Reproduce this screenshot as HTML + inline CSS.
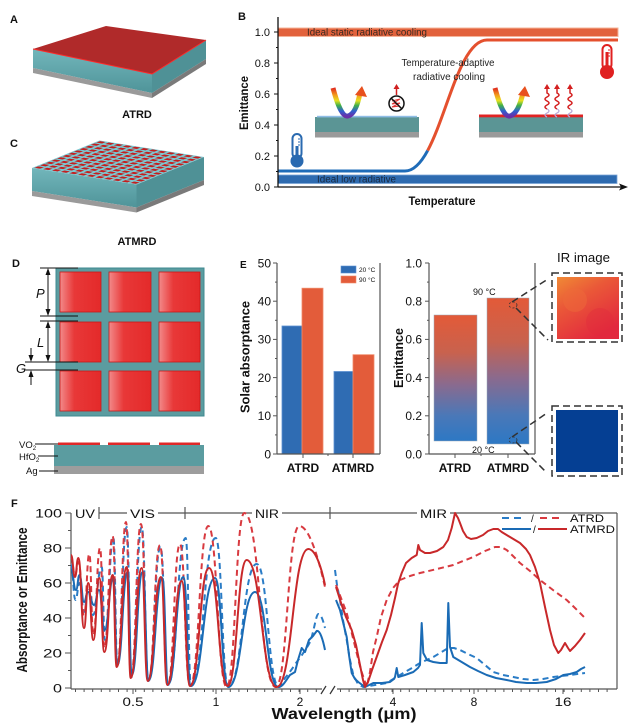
<!DOCTYPE html>
<html><head><meta charset="utf-8"><style>
html,body{margin:0;padding:0;background:#fff}
svg{display:block}
text{font-family:"Liberation Sans",Arial,sans-serif}
</style></head><body>
<svg width="640" height="728" viewBox="0 0 640 728" xmlns="http://www.w3.org/2000/svg">
<defs>
<linearGradient id="teal" x1="0" y1="0" x2="0" y2="1"><stop offset="0" stop-color="#72b6bb"/><stop offset="1" stop-color="#4f9499"/></linearGradient>
<linearGradient id="rainbow" x1="0" y1="0" x2="0" y2="1">
<stop offset="0" stop-color="#e0281e"/><stop offset="0.25" stop-color="#f39a1c"/><stop offset="0.45" stop-color="#e6e020"/><stop offset="0.62" stop-color="#3eb04a"/><stop offset="0.82" stop-color="#2f5fd0"/><stop offset="1" stop-color="#6a2fa8"/></linearGradient>
<linearGradient id="sq" x1="0" y1="0" x2="1" y2="0"><stop offset="0" stop-color="#f28a8a"/><stop offset="0.35" stop-color="#e83838"/><stop offset="1" stop-color="#e42a2a"/></linearGradient>
<linearGradient id="emg" x1="0" y1="0" x2="0" y2="1"><stop offset="0" stop-color="#e35a38"/><stop offset="0.3" stop-color="#c8624e"/><stop offset="0.55" stop-color="#8a6a8e"/><stop offset="0.8" stop-color="#4a78b8"/><stop offset="1" stop-color="#2d78c4"/></linearGradient>
<linearGradient id="ir" x1="0" y1="0" x2="0.6" y2="1"><stop offset="0" stop-color="#f08a35"/><stop offset="0.4" stop-color="#ea5838"/><stop offset="1" stop-color="#e2283e"/></linearGradient>
<pattern id="grid" patternUnits="userSpaceOnUse" width="10" height="10"><rect x="1.8" y="1.8" width="6.4" height="6.4" fill="#c41e1e"/></pattern>
</defs>

<!-- ===== Panel A ===== -->
<text x="10" y="23" font-size="11" font-weight="bold" fill="#111">A</text>
<polygon points="33,49 152,74 152,93 33,68" fill="url(#teal)"/>
<polygon points="33,68 152,93 152,98 33,73" fill="#9a9a9a"/>
<polygon points="152,74 206,40 206,59 152,93" fill="#4f9196"/>
<polygon points="152,93 206,59 206,64 152,98" fill="#7a7a7a"/>
<polygon points="33,49 106,26 206,40 152,74" fill="#b02a2a"/>
<polyline points="33,49 152,74 206,40" stroke="#ff2a2a" fill="none" stroke-width="1"/>
<text x="137" y="118" font-size="11" font-weight="bold" fill="#111" text-anchor="middle">ATRD</text>

<!-- ===== Panel C ===== -->
<text x="10" y="147" font-size="11" font-weight="bold" fill="#111">C</text>
<polygon points="32,168 136.5,184.5 136.5,207.5 32,191" fill="url(#teal)"/>
<polygon points="32,191 136.5,207.5 136.5,212.5 32,196" fill="#9a9a9a"/>
<polygon points="136.5,184.5 204,157 204,180 136.5,207.5" fill="#4f9196"/>
<polygon points="136.5,207.5 204,180 204,185 136.5,212.5" fill="#7a7a7a"/>
<g transform="matrix(0.5625,-0.22917,0.87083,0.1375,32,168)">
<rect x="0" y="0" width="120" height="120" fill="#7cc6cf"/>
<rect x="0" y="0" width="120" height="120" fill="url(#grid)"/>
</g>
<text x="137" y="245" font-size="11" font-weight="bold" fill="#111" text-anchor="middle">ATMRD</text>

<!-- ===== Panel D ===== -->
<text x="12" y="267" font-size="11" font-weight="bold" fill="#111">D</text>
<rect x="56" y="268" width="148" height="148" fill="#5b9ca0" stroke="#3f8a90" stroke-width="1"/>
<g fill="url(#sq)" stroke="#c81818" stroke-width="0.8">
<rect x="60" y="272" width="41" height="40"/><rect x="109" y="272" width="42" height="40"/><rect x="159" y="272" width="41" height="40"/>
<rect x="60" y="322" width="41" height="40"/><rect x="109" y="322" width="42" height="40"/><rect x="159" y="322" width="41" height="40"/>
<rect x="60" y="371" width="41" height="40"/><rect x="109" y="371" width="42" height="40"/><rect x="159" y="371" width="41" height="40"/>
</g>
<g stroke="#111" stroke-width="1" fill="none">
<line x1="40" y1="268" x2="78" y2="268"/><line x1="40" y1="316" x2="78" y2="316"/><line x1="40" y1="321" x2="78" y2="321"/>
<line x1="25" y1="362" x2="78" y2="362"/><line x1="25" y1="370" x2="78" y2="370"/>
<line x1="48" y1="271" x2="48" y2="313"/><line x1="48" y1="324" x2="48" y2="359"/>
<line x1="31" y1="348" x2="31" y2="358"/><line x1="31" y1="374" x2="31" y2="385"/>
</g>
<g fill="#111">
<polygon points="48,268 45.5,275 50.5,275"/><polygon points="48,316 45.5,309 50.5,309"/>
<polygon points="48,321 45.5,328 50.5,328"/><polygon points="48,362 45.5,355 50.5,355"/>
<polygon points="31,362 28.5,355 33.5,355"/><polygon points="31,370 28.5,377 33.5,377"/>
</g>
<text x="36" y="298" font-size="13" font-style="italic" fill="#111">P</text>
<text x="37" y="347" font-size="13" font-style="italic" fill="#111">L</text>
<text x="16" y="373" font-size="13" font-style="italic" fill="#111">G</text>
<rect x="54" y="445" width="150" height="21" fill="#5b9ca0"/>
<rect x="54" y="466" width="150" height="8" fill="#9d9d9d"/>
<g fill="#e02828"><rect x="58" y="442.5" width="42" height="2.5"/><rect x="108" y="442.5" width="42" height="2.5"/><rect x="159" y="442.5" width="41" height="2.5"/></g>
<g stroke="#111" stroke-width="1"><line x1="35" y1="444" x2="58" y2="444"/><line x1="38" y1="456" x2="58" y2="456"/><line x1="39" y1="471" x2="58" y2="471"/></g>
<text x="19" y="448" font-size="9.5" fill="#111">VO<tspan font-size="6" dy="2">2</tspan></text>
<text x="19" y="460" font-size="9.5" fill="#111">HfO<tspan font-size="6" dy="2">2</tspan></text>
<text x="26" y="474" font-size="9.5" fill="#111">Ag</text>

<!-- ===== Panel B ===== -->
<text x="238" y="20" font-size="11" font-weight="bold" fill="#111">B</text>
<rect x="278" y="28" width="340" height="8.5" fill="#e2623c" stroke="#f5b49a" stroke-width="1"/>
<rect x="278" y="175" width="339" height="8.5" fill="#2e6bb0" stroke="#7aa6d8" stroke-width="0.8"/>
<text x="307" y="35.5" font-size="10" fill="#3a2a22" textLength="120" lengthAdjust="spacingAndGlyphs">Ideal static radiative cooling</text>
<text x="317" y="182.5" font-size="10" fill="#1a2a40" textLength="79" lengthAdjust="spacingAndGlyphs">Ideal low radiative</text>
<path d="M278,171 L405,171 C413.75,171 421.06,162.81 427.66,150.53" stroke="#1f6cb8" stroke-width="3" fill="none"/>
<path d="M427.66,150.53 C447.44,113.69 460.75,40 487,40 L618,40" stroke="#e4502e" stroke-width="3" fill="none"/>
<text x="448" y="66" font-size="10" fill="#222" text-anchor="middle" textLength="93" lengthAdjust="spacingAndGlyphs">Temperature-adaptive</text>
<text x="449" y="80" font-size="10" fill="#222" text-anchor="middle" textLength="72" lengthAdjust="spacingAndGlyphs">radiative cooling</text>
<!-- left inset -->
<rect x="315" y="117" width="104" height="15" fill="#5b9595"/>
<rect x="315" y="132" width="104" height="5.5" fill="#9a9a9a"/>
<rect x="317" y="115.8" width="100" height="1.6" fill="#8fbde6"/>
<path d="M333,88 Q341,118 348,116 Q356,114 360,93" stroke="url(#rainbow)" stroke-width="5" fill="none"/>
<polygon points="355,95 362,86 367,97" fill="#e8501e"/>
<circle cx="396.5" cy="103.5" r="7.5" fill="#fff" stroke="#111" stroke-width="1.5"/>
<path d="M392,101 L400,99 L392,104 L400,103 L392,107 L400,106" stroke="#e03030" stroke-width="1" fill="none"/>
<line x1="391.5" y1="98.5" x2="401.5" y2="108.5" stroke="#111" stroke-width="1.5"/>
<path d="M396.5,95 L396.5,88" stroke="#d02020" stroke-width="1.5"/>
<polygon points="393.5,89 396.5,84 399.5,89" fill="#d02020"/>
<!-- right inset -->
<rect x="479" y="117" width="104" height="15" fill="#5b9595"/>
<rect x="479" y="132" width="104" height="5.5" fill="#9a9a9a"/>
<rect x="479" y="114.5" width="104" height="2.8" fill="#e02424"/>
<path d="M495,88 Q503,118 510,116 Q518,114 523,93" stroke="url(#rainbow)" stroke-width="5" fill="none"/>
<polygon points="518,95 525,86 530,97" fill="#e8501e"/>
<g stroke="#b8a8d8" stroke-width="1.2" fill="none">
<path d="M547,117 q-4,-2 0,-4 q4,-2 0,-4"/><path d="M557,117 q-4,-2 0,-4 q4,-2 0,-4"/><path d="M570,117 q-4,-2 0,-4 q4,-2 0,-4"/>
</g>
<g stroke="#d42020" stroke-width="1.5" fill="none">
<path d="M547,109 q-4,-2 0,-4 q4,-2 0,-4 q-4,-2 0,-4 q4,-2 0,-4 L547,88"/>
<path d="M557,109 q-4,-2 0,-4 q4,-2 0,-4 q-4,-2 0,-4 q4,-2 0,-4 L557,88"/>
<path d="M570,109 q-4,-2 0,-4 q4,-2 0,-4 q-4,-2 0,-4 q4,-2 0,-4 L570,88"/>
</g>
<g fill="#d42020"><polygon points="544,89 547,84 550,89"/><polygon points="554,89 557,84 560,89"/><polygon points="567,89 570,84 573,89"/></g>
<!-- thermometers -->
<rect x="292.5" y="134" width="9" height="24" rx="4.5" fill="#fff" stroke="#2a6ab0" stroke-width="2"/>
<rect x="295.5" y="146" width="3" height="12" fill="#2a6ab0"/>
<circle cx="297" cy="161" r="6.5" fill="#2a6ab0"/>
<g stroke="#2a6ab0" stroke-width="1"><line x1="298" y1="139" x2="300" y2="139"/><line x1="298" y1="142" x2="300" y2="142"/><line x1="298" y1="145" x2="300" y2="145"/></g>
<rect x="602.5" y="45" width="9" height="24" rx="4.5" fill="#fff" stroke="#e02020" stroke-width="2"/>
<rect x="605.5" y="52" width="3" height="17" fill="#e02020"/>
<circle cx="607" cy="72" r="7" fill="#e02020"/>
<g stroke="#e02020" stroke-width="1"><line x1="608" y1="50" x2="610" y2="50"/><line x1="608" y1="53" x2="610" y2="53"/><line x1="608" y1="56" x2="610" y2="56"/></g>
<!-- B axes -->
<line x1="278" y1="17" x2="278" y2="187" stroke="#111" stroke-width="1.3"/>
<line x1="278" y1="187" x2="622" y2="187" stroke="#111" stroke-width="1.3"/>
<polygon points="628,187 619,183.5 621,187 619,190.5" fill="#111"/>
<g stroke="#111" stroke-width="1">
<line x1="274" y1="32" x2="278" y2="32"/><line x1="274" y1="63" x2="278" y2="63"/><line x1="274" y1="94" x2="278" y2="94"/><line x1="274" y1="125" x2="278" y2="125"/><line x1="274" y1="156" x2="278" y2="156"/><line x1="274" y1="187" x2="278" y2="187"/>
<line x1="276" y1="47.5" x2="278" y2="47.5"/><line x1="276" y1="78.5" x2="278" y2="78.5"/><line x1="276" y1="109.5" x2="278" y2="109.5"/><line x1="276" y1="140.5" x2="278" y2="140.5"/><line x1="276" y1="171.5" x2="278" y2="171.5"/>
</g>
<g font-size="11" fill="#111" text-anchor="end">
<text x="270" y="36">1.0</text><text x="270" y="67">0.8</text><text x="270" y="98">0.6</text><text x="270" y="129">0.4</text><text x="270" y="160">0.2</text><text x="270" y="191">0.0</text>
</g>
<text transform="translate(248,103) rotate(-90)" font-size="12" font-weight="bold" fill="#111" text-anchor="middle" textLength="54" lengthAdjust="spacingAndGlyphs">Emittance</text>
<text x="442" y="205" font-size="12" font-weight="bold" fill="#111" text-anchor="middle" textLength="67" lengthAdjust="spacingAndGlyphs">Temperature</text>

<!-- ===== Panel E (solar absorptance) ===== -->
<text x="240" y="268" font-size="10" font-weight="bold" fill="#111">E</text>
<rect x="282" y="326" width="20" height="128" fill="#2f6cb3" stroke="#5d92d2" stroke-width="0.8"/>
<rect x="302" y="288.2" width="21" height="165.8" fill="#e35c3a" stroke="#f08a6a" stroke-width="0.8"/>
<rect x="334" y="371.5" width="19" height="82.5" fill="#2f6cb3" stroke="#5d92d2" stroke-width="0.8"/>
<rect x="353" y="354.7" width="21" height="99.3" fill="#e35c3a" stroke="#f08a6a" stroke-width="0.8"/>
<g stroke="#555" stroke-width="1.2" fill="none">
<line x1="277" y1="263" x2="277" y2="454"/><line x1="380" y1="263" x2="380" y2="454"/><line x1="277" y1="454" x2="380" y2="454"/>
</g>
<g stroke="#555" stroke-width="1">
<line x1="273" y1="263" x2="277" y2="263"/><line x1="273" y1="301.2" x2="277" y2="301.2"/><line x1="273" y1="339.4" x2="277" y2="339.4"/><line x1="273" y1="377.6" x2="277" y2="377.6"/><line x1="273" y1="415.8" x2="277" y2="415.8"/><line x1="273" y1="454" x2="277" y2="454"/>
<line x1="275" y1="282.1" x2="277" y2="282.1"/><line x1="275" y1="320.3" x2="277" y2="320.3"/><line x1="275" y1="358.5" x2="277" y2="358.5"/><line x1="275" y1="396.7" x2="277" y2="396.7"/><line x1="275" y1="434.9" x2="277" y2="434.9"/>
<line x1="303" y1="454" x2="303" y2="458"/><line x1="353" y1="454" x2="353" y2="458"/><line x1="328" y1="454" x2="328" y2="456"/>
</g>
<g font-size="12" fill="#111" text-anchor="end">
<text x="271" y="267.5">50</text><text x="271" y="305.5">40</text><text x="271" y="343.5">30</text><text x="271" y="382">20</text><text x="271" y="420">10</text><text x="271" y="458.5">0</text>
</g>
<rect x="341" y="266" width="15" height="7" fill="#2f6cb3" stroke="#5d92d2" stroke-width="0.6"/>
<rect x="341" y="276" width="15" height="7" fill="#e35c3a" stroke="#f08a6a" stroke-width="0.6"/>
<text x="359" y="272" font-size="6.5" fill="#111">20 °C</text>
<text x="359" y="282" font-size="6.5" fill="#111">90 °C</text>
<text x="303" y="472" font-size="12" font-weight="bold" fill="#111" text-anchor="middle">ATRD</text>
<text x="353" y="472" font-size="12" font-weight="bold" fill="#111" text-anchor="middle">ATMRD</text>
<text transform="translate(249.5,357) rotate(-90)" font-size="13" font-weight="bold" fill="#111" text-anchor="middle" textLength="112" lengthAdjust="spacingAndGlyphs">Solar absorptance</text>

<!-- ===== Panel E (emittance) ===== -->
<rect x="434" y="315" width="43" height="126" fill="url(#emg)" stroke="#9ab" stroke-width="0.5"/>
<rect x="487" y="298" width="42" height="146" fill="url(#emg)" stroke="#9ab" stroke-width="0.5"/>
<g stroke="#555" stroke-width="1.2" fill="none">
<line x1="429" y1="263" x2="429" y2="454"/><line x1="535" y1="263" x2="535" y2="454"/><line x1="429" y1="454" x2="535" y2="454"/>
</g>
<g stroke="#555" stroke-width="1">
<line x1="425" y1="263" x2="429" y2="263"/><line x1="425" y1="301.2" x2="429" y2="301.2"/><line x1="425" y1="339.4" x2="429" y2="339.4"/><line x1="425" y1="377.6" x2="429" y2="377.6"/><line x1="425" y1="415.8" x2="429" y2="415.8"/><line x1="425" y1="454" x2="429" y2="454"/>
<line x1="427" y1="282.1" x2="429" y2="282.1"/><line x1="427" y1="320.3" x2="429" y2="320.3"/><line x1="427" y1="358.5" x2="429" y2="358.5"/><line x1="427" y1="396.7" x2="429" y2="396.7"/><line x1="427" y1="434.9" x2="429" y2="434.9"/>
<line x1="455" y1="454" x2="455" y2="458"/><line x1="508" y1="454" x2="508" y2="458"/><line x1="481" y1="454" x2="481" y2="456"/>
</g>
<g font-size="12" fill="#111" text-anchor="end">
<text x="422" y="267.5">1.0</text><text x="422" y="305.5">0.8</text><text x="422" y="343.5">0.6</text><text x="422" y="382">0.4</text><text x="422" y="420">0.2</text><text x="422" y="458.5">0.0</text>
</g>
<text x="473" y="295" font-size="9" fill="#111">90 °C</text>
<text x="472" y="453" font-size="9" fill="#111">20 °C</text>
<text x="455" y="472" font-size="12" font-weight="bold" fill="#111" text-anchor="middle">ATRD</text>
<text x="508" y="472" font-size="12" font-weight="bold" fill="#111" text-anchor="middle">ATMRD</text>
<text transform="translate(403,358) rotate(-90)" font-size="13" font-weight="bold" fill="#111" text-anchor="middle" textLength="60" lengthAdjust="spacingAndGlyphs">Emittance</text>
<text x="557" y="262" font-size="13" fill="#111" textLength="53" lengthAdjust="spacingAndGlyphs">IR image</text>
<!-- IR images -->
<rect x="557" y="277" width="62" height="62" fill="url(#ir)"/>
<circle cx="575" cy="300" r="12" fill="#ee6a3a" opacity="0.5"/>
<circle cx="600" cy="322" r="14" fill="#e02a3c" opacity="0.4"/>
<rect x="556" y="410" width="62" height="62" fill="#053f93"/>
<g stroke="#333" stroke-width="1.5" fill="none" stroke-dasharray="7,4">
<rect x="552" y="273" width="70" height="69"/>
<rect x="552" y="406" width="70" height="70"/>
<line x1="512" y1="302" x2="548" y2="279"/><line x1="516" y1="308" x2="548" y2="340"/>
<line x1="512" y1="437" x2="547" y2="413"/><line x1="516" y1="442" x2="547" y2="473"/>
</g>
<g stroke="#333" stroke-width="0.8" fill="none" stroke-dasharray="2,2">
<ellipse cx="513" cy="305" rx="4" ry="3"/><ellipse cx="513" cy="440" rx="4" ry="3"/>
</g>

<!-- ===== Panel F ===== -->
<text x="11" y="507" font-size="11" font-weight="bold" fill="#111">F</text>
<!-- frame -->
<g stroke="#555" stroke-width="1.2" fill="none">
<line x1="71" y1="513" x2="71" y2="689"/>
<line x1="617" y1="513" x2="617" y2="689"/>
<line x1="71" y1="689" x2="322" y2="689"/>
<line x1="337" y1="689" x2="617" y2="689"/>
<line x1="99" y1="513" x2="127" y2="513"/>
<line x1="158" y1="513" x2="252" y2="513"/>
<line x1="282" y1="513" x2="417" y2="513"/>
<line x1="450" y1="513" x2="617" y2="513"/>
<line x1="99" y1="507" x2="99" y2="519"/>
<line x1="185" y1="507" x2="185" y2="519"/>
<line x1="330" y1="507" x2="330" y2="519"/>
</g>
<g stroke="#333" stroke-width="1.2">
<line x1="321" y1="694" x2="326" y2="686"/><line x1="330" y1="694" x2="335" y2="686"/>
</g>
<g font-size="12" fill="#111">
<text x="75" y="518" textLength="20" lengthAdjust="spacingAndGlyphs">UV</text>
<text x="130" y="518" textLength="25" lengthAdjust="spacingAndGlyphs">VIS</text>
<text x="255" y="518" textLength="24" lengthAdjust="spacingAndGlyphs">NIR</text>
<text x="420" y="518" textLength="27" lengthAdjust="spacingAndGlyphs">MIR</text>
</g>
<!-- y ticks -->
<g stroke="#555" stroke-width="1">
<line x1="65" y1="688" x2="71" y2="688"/><line x1="65" y1="653" x2="71" y2="653"/><line x1="65" y1="618" x2="71" y2="618"/><line x1="65" y1="583" x2="71" y2="583"/><line x1="65" y1="548" x2="71" y2="548"/><line x1="65" y1="513" x2="71" y2="513"/>
<line x1="68" y1="670.5" x2="71" y2="670.5"/><line x1="68" y1="635.5" x2="71" y2="635.5"/><line x1="68" y1="600.5" x2="71" y2="600.5"/><line x1="68" y1="565.5" x2="71" y2="565.5"/><line x1="68" y1="530.5" x2="71" y2="530.5"/>
<line x1="133" y1="689" x2="133" y2="694"/><line x1="216" y1="689" x2="216" y2="694"/><line x1="300" y1="689" x2="300" y2="694"/>
<line x1="393" y1="689" x2="393" y2="694"/><line x1="474" y1="689" x2="474" y2="694"/><line x1="563" y1="689" x2="563" y2="694"/>
</g>
<line x1="75" y1="690.5" x2="320" y2="690.5" stroke="#555" stroke-width="3" stroke-dasharray="1,7.6"/>
<line x1="340" y1="690.5" x2="612" y2="690.5" stroke="#555" stroke-width="3" stroke-dasharray="1,7.6"/>
<g font-size="12" fill="#111" text-anchor="end">
<text x="62" y="517.5" textLength="27" lengthAdjust="spacingAndGlyphs">100</text>
<text x="62" y="552.5" textLength="19" lengthAdjust="spacingAndGlyphs">80</text>
<text x="62" y="587.5" textLength="19" lengthAdjust="spacingAndGlyphs">60</text>
<text x="62" y="622.5" textLength="19" lengthAdjust="spacingAndGlyphs">40</text>
<text x="62" y="657.5" textLength="19" lengthAdjust="spacingAndGlyphs">20</text>
<text x="62" y="692.5" textLength="9" lengthAdjust="spacingAndGlyphs">0</text>
</g>
<g font-size="12" fill="#111" text-anchor="middle">
<text x="133" y="706" textLength="21" lengthAdjust="spacingAndGlyphs">0.5</text>
<text x="216" y="706">1</text>
<text x="300" y="706">2</text>
<text x="393" y="706">4</text>
<text x="474" y="706">8</text>
<text x="563" y="706" textLength="17" lengthAdjust="spacingAndGlyphs">16</text>
</g>
<text x="344" y="719" font-size="16" font-weight="bold" fill="#111" text-anchor="middle" textLength="145" lengthAdjust="spacingAndGlyphs">Wavelength (μm)</text>
<text transform="translate(27,600) rotate(-90)" font-size="15" font-weight="bold" fill="#111" text-anchor="middle" textLength="145" lengthAdjust="spacingAndGlyphs">Absorptance or Emittance</text>

<!-- curves -->
<g fill="none" stroke-width="2" stroke-linejoin="round" stroke-linecap="butt">
<!-- blue dashed (ATRD 20C) -->
<path stroke="#2a7cc6" stroke-dasharray="6,4" d="M71,565 C73.2,565 73.2,600 75.5,600 C77.5,600 77.5,583 79.5,583 C81.8,583 81.8,612 84,612 C86,612 86,590 88,590 C90.5,590 90.5,615 93,615 C97.3,615 97.3,567 101.7,567 C103.3,567 103.3,640 105,640 C109.2,640 109.2,537 113.3,537 C115.4,537 115.4,665 117.5,665 C122.1,665 122.1,527 126.7,527 C129.1,527 129.1,677 131.5,677 C136.6,677 136.6,527 141.7,527 C145.1,527 145.1,681 148.5,681 C154.5,681 154.5,547 160.5,547 C164.3,547 164.3,685 168,685 C176.9,685 176.9,538 185.7,538 C188.4,538 188.4,686 191,686 C203.4,686 203.4,538 215.7,538 C222,538 222,687 228.3,687 C242.5,687 242.5,564 256.7,564 C267.9,564 267.9,687 279,687 C282,687 283,680 285,678 C292,670 296,662 300,658 C305,650 307,648 310,642 C314,632 316,614 318.3,614 C321,614 323,620 325,628"/>
<path stroke="#2a7cc6" stroke-dasharray="6,4" d="M335,570 L337,585 L340,600 L343,620 L346.7,640 L350,660 L353.3,675 L358,684 L363.3,687 L375,685 L386.7,683 L395,678 L403.3,673 L412,668 L420,663 L433.3,657 L440,653 L448.3,648 L454,648 L460,650 L468,654 L476.7,658 L485,665 L493.3,672 L503,675 L513.3,677 L523,679 L533.3,680 L543,679 L553.3,677 L570,675 L585,673"/>
<!-- red dashed (ATRD 90C) -->
<path stroke="#d83a40" stroke-dasharray="6,4" d="M71,557 C73,557 73,575 75,575 C76.8,575 76.8,562 78.5,562 C81.2,562 81.2,615 84,615 C86.7,615 86.7,554 89.3,554 C91.3,554 91.3,635 93.3,635 C96.7,635 96.7,548 100,548 C102.2,548 102.2,648 104.3,648 C108.5,648 108.5,536 112.7,536 C115,536 115,665 117.3,665 C121.7,665 121.7,522 126,522 C128.5,522 128.5,677 131,677 C136,677 136,524 141,524 C144.7,524 144.7,681 148.3,681 C154.2,681 154.2,545 160,545 C163.9,545 163.9,685 167.7,685 C173.9,685 173.9,544 180,544 C185,544 185,686 190,686 C199.2,686 199.2,526 208.3,526 C217.5,526 217.5,687 226.7,687 C235.5,687 235.5,513 244.3,513 C260,513 260,687 275.7,687 C287.5,687 287.5,526 299.3,526 C310,526 320,565 325,587"/>
<path stroke="#d83a40" stroke-dasharray="6,4" d="M336,585 L341,598 L346.7,613 L351,630 L356.7,653 L361,670 L366.7,687 L370,672 L373,652 L376.7,637 L381,617 L386.7,600 L393,588 L400,580 L410,576 L420,573 L437,569 L453.3,565 L463,561 L473.3,557 L485,551 L495,547 L501,547 L506.7,550 L513,556 L520,563 L530,571 L540,580 L553,590 L566.7,600 L575,608 L585,618"/>
<!-- blue solid (ATMRD 20C) -->
<path stroke="#1a6bb5" d="M71,570 C73.5,570 73.5,590 76,590 C77.8,590 77.8,575 79.5,575 C81.8,575 81.8,602 84,602 C86,602 86,592 88,592 C91,592 91,605 94,605 C96.5,605 96.5,590 99,590 C101.8,590 101.8,630 104.5,630 C108.9,630 108.9,578 113.3,578 C115.3,578 115.3,665 117.3,665 C122.5,665 122.5,572 127.7,572 C129.7,572 129.7,675 131.7,675 C137.2,675 137.2,572 142.7,572 C145.7,572 145.7,680 148.7,680 C155.5,680 155.5,578 162.3,578 C165.3,578 165.3,684 168.3,684 C175.8,684 175.8,577 183.3,577 C187.2,577 187.2,686 191,686 C203,686 203,578 215,578 C221.7,578 221.7,687 228.3,687 C241.7,687 241.7,592 255,592 C266.7,592 266.7,687 278.3,687 C283,687 286,680 290,675 L295,672 L298,660 L301.7,648 L305,652 L309,640 L313,636 L316.7,631 C320,630 323,640 325,650"/>
<path stroke="#1a6bb5" d="M336,600 L340,610 L343,622 L346.7,637 L349,655 L351.7,673 L355,679 L358.3,682 L365,687 L373.3,683 L382,683 L390,682 L394,679 L395,677 L396.7,668 L398.3,677 L405,675 L413.3,672 L418,668 L420,665 L421.7,623 L423.3,653 L427,660 L433.3,662 L440,663 L446.7,663 L448.3,603 L450,647 L453.3,657 L460,661 L470,667 L478,671 L486.7,675 L496,678 L506.7,680 L516,682 L526.7,683 L536,683 L546.7,682 L556,679 L563.3,675 L570,674 L576.7,672 L581,669 L585,667"/>
<!-- red solid (ATMRD 90C) -->
<path stroke="#c8282a" d="M71,555 C73,555 73,577 75,577 C76.6,577 76.6,558 78.3,558 C81.2,558 81.2,628 84,628 C86.2,628 86.2,583 88.3,583 C90.8,583 90.8,640 93.3,640 C96.3,640 96.3,578 99.3,578 C101.8,578 101.8,652 104.3,652 C108.5,652 108.5,575 112.7,575 C114.7,575 114.7,667 116.7,667 C121.7,667 121.7,567 126.7,567 C128.7,567 128.7,678 130.7,678 C136.2,678 136.2,568 141.7,568 C144.7,568 144.7,681 147.7,681 C154.4,681 154.4,577 161,577 C164.2,577 164.2,685 167.3,685 C174.5,685 174.5,581 181.7,581 C185.9,581 185.9,686 190,686 C199.5,686 199.5,568 209,568 C218.4,568 218.4,686 227.7,686 C237.2,686 237.2,560 246.7,560 C261.7,560 261.7,687 276.7,687 C292.5,687 292.5,549 308.3,549 C316,549 322,570 325,585"/>
<path stroke="#c8282a" d="M336,587 L341.7,605 L346,617 L351.7,630 L356,645 L360,665 L363,680 L365,687 L368,682 L372,670 L377,656 L382,642 L386.7,630 L391,615 L395,598 L398,584 L401.7,573 L406,563 L411.7,558 L416.7,555 L418.3,545 L420,550 L425,553 L430,553 L437,551 L443.3,547 L448,540 L451.7,528 L455,513 L458,518 L460,523 L463,531 L466.7,537 L471,539 L476.7,538 L483,535 L488,531 L493.3,529 L498,529 L501.7,532 L510,537 L520,543 L526,549 L530,555 L535,567 L540,583 L545,607 L550,630 L554,645 L558.3,653 L561,650 L565,643 L568,648 L570,651 L575,646 L580,640 L585,633"/>
</g>
<!-- legend -->
<g fill="none" stroke-width="2">
<line x1="502" y1="518" x2="526" y2="518" stroke="#2a7cc6" stroke-dasharray="7,5"/>
<line x1="540" y1="518" x2="564" y2="518" stroke="#d83a40" stroke-dasharray="7,5"/>
<line x1="502" y1="529" x2="531" y2="529" stroke="#1a6bb5"/>
<line x1="538" y1="529" x2="567" y2="529" stroke="#c8282a"/>
</g>
<text x="531" y="522" font-size="10" fill="#111">/</text>
<text x="533" y="533" font-size="10" fill="#111">/</text>
<text x="570" y="522" font-size="11" fill="#111" textLength="34" lengthAdjust="spacingAndGlyphs">ATRD</text>
<text x="570" y="533" font-size="11" fill="#111" textLength="45" lengthAdjust="spacingAndGlyphs">ATMRD</text>
</svg>
</body></html>
